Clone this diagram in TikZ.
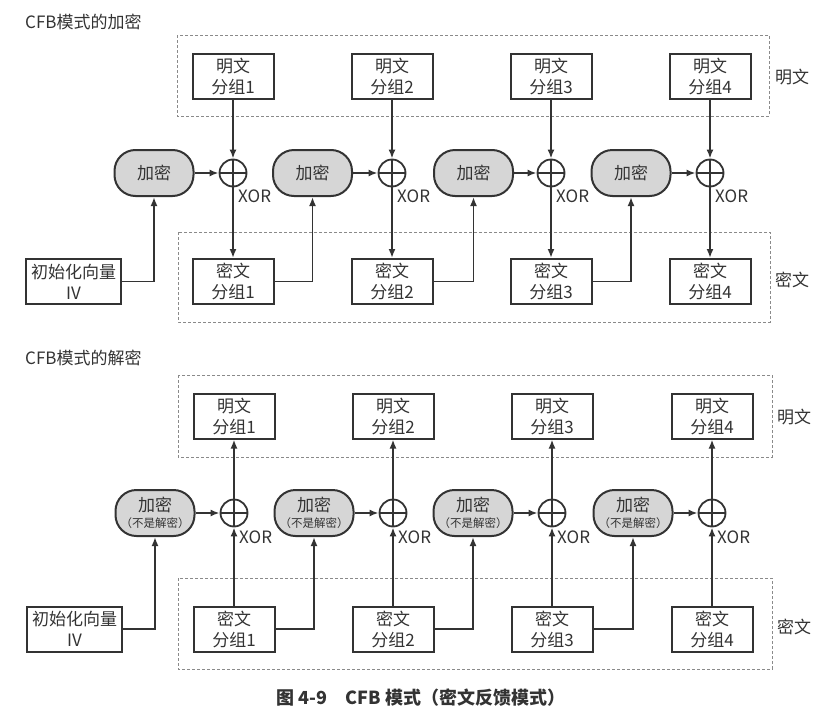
\documentclass[tikz,border=0pt]{standalone}
\usepackage{fontspec}
\setmainfont{Noto Sans CJK SC}
\usetikzlibrary{arrows.meta,calc}
\definecolor{ink}{HTML}{333333}
\definecolor{encfill}{HTML}{D6D6D6}
\definecolor{dashc}{HTML}{8A8A8A}
\tikzset{
  blk/.style={draw=ink,line width=2pt,minimum width=81pt,minimum height=45pt,align=center,inner sep=1pt,text=ink,font=\fontsize{17}{21}\selectfont},
  ivblk/.style={blk,minimum width=95pt},
  enc/.style={draw=ink,fill=encfill,line width=2pt,rounded corners=21pt,minimum width=79pt,minimum height=46pt,align=center,inner sep=1pt,text=ink,font=\fontsize{17}{19}\selectfont},
  xorc/.style={draw=ink,circle,line width=1.8pt,minimum size=27pt,inner sep=0pt},
  conn/.style={draw=ink,line width=1.8pt,-{Latex[length=9pt,width=7pt]}},
  dbox/.style={draw=dashc,line width=0.8pt,dash pattern=on 3pt off 2pt},
  lbl/.style={text=ink,font=\fontsize{17}{20}\selectfont,inner sep=0pt},
  ttl/.style={text=ink,font=\fontsize{17}{20}\selectfont,inner sep=0pt,anchor=west},
  xorl/.style={text=ink,font=\fontsize{17}{20}\selectfont,inner sep=0pt,anchor=west}
}
\newcommand{\xorcross}[1]{\draw[ink,line width=1.8pt] (#1.north)--(#1.south) (#1.west)--(#1.east);}
\begin{document}
\begin{tikzpicture}[x=1pt,y=-1pt]
\useasboundingbox (0,0) rectangle (834,720);
% ================= Encryption =================
\node[ttl] (t1) at (25,22) {CFB模式的加密};
\draw[dbox] (177,35) rectangle (769,116);
\draw[dbox] (178,232) rectangle (770,322);
\node[lbl] (lp1) at (792,77) {明文};
\node[lbl] (lc1) at (792,280) {密文};
\foreach \i/\px/\ex in {1/233/154,2/392/312.5,3/551/473.5,4/710/631}{
  \node[blk] (P\i) at (\px,76.5) {明文\\分组\i};
  \node[xorc] (X\i) at (\px,173) {};
  \xorcross{X\i}
  \node[enc] (E\i) at (\ex,173) {加密};
  \node[blk] (C\i) at (\px,281.5) {密文\\分组\i};
  \node[xorl] (XL\i) at ($(X\i.center)+(5,23)$) {XOR};
  \draw[conn] (P\i.south) -- (X\i.north);
  \draw[conn] (E\i.east) -- (X\i.west);
  \draw[conn] (X\i.south) -- (C\i.north);
}
\node[ivblk] (IV) at (73.5,281.5) {初始化向量\\IV};
\draw[conn] (IV.east) -| (E1.south);
\draw[conn] (C1.east) -| (E2.south);
\draw[conn] (C2.east) -| (E3.south);
\draw[conn] (C3.east) -| (E4.south);
% ================= Decryption =================
\node[ttl] (t2) at (25,358) {CFB模式的解密};
\draw[dbox] (178,375) rectangle (772,457);
\draw[dbox] (178,578) rectangle (772,669);
\node[lbl] (lp2) at (794,417) {明文};
\node[lbl] (lc2) at (794,627) {密文};
\foreach \i/\px/\ex in {1/234/155,2/393/314,3/552/473,4/712/633}{
  \node[blk] (DP\i) at (\px,416) {明文\\分组\i};
  \node[xorc] (DX\i) at (\px,513) {};
  \xorcross{DX\i}
  \node[enc] (DE\i) at (\ex,513) {加密\\[-3pt]{\fontsize{11.5}{13}\selectfont（不是解密）}};
  \node[blk] (DC\i) at (\px,629) {密文\\分组\i};
  \node[xorl] (DXL\i) at ($(DX\i.center)+(5,24)$) {XOR};
  \draw[conn] (DC\i.north) -- (DX\i.south);
  \draw[conn] (DX\i.north) -- (DP\i.south);
  \draw[conn] (DE\i.east) -- (DX\i.west);
}
\node[ivblk] (DIV) at (74.5,629) {初始化向量\\IV};
\draw[conn] (DIV.east) -| (DE1.south);
\draw[conn] (DC1.east) -| (DE2.south);
\draw[conn] (DC2.east) -| (DE3.south);
\draw[conn] (DC3.east) -| (DE4.south);
% caption
\node[text=ink,font=\fontsize{18}{20}\selectfont\bfseries,inner sep=0pt] (cap) at (421,698) {图 4-9\hspace{1em}CFB 模式（密文反馈模式）};
\end{tikzpicture}
\end{document}
